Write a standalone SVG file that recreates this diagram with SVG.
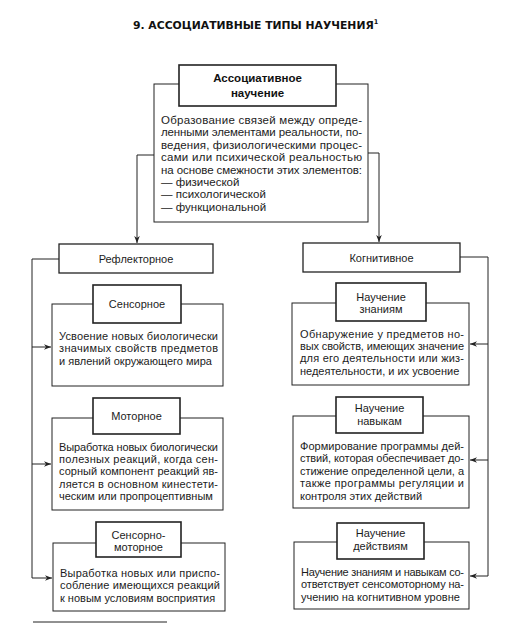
<svg xmlns="http://www.w3.org/2000/svg" width="519" height="625" viewBox="0 0 519 625">
<defs>
<marker id="arr" viewBox="0 0 10 10" refX="10" refY="5" markerWidth="7" markerHeight="7" orient="auto" markerUnits="userSpaceOnUse">
<path d="M0,1 L10,5 L0,9 L3,5 Z" fill="#222"/>
</marker>
<style>
.t{font-family:"Liberation Sans",Arial,sans-serif;font-size:11px;fill:#1c1c1c}
.m{font-family:"Liberation Sans",Arial,sans-serif;font-size:11.5px;fill:#1c1c1c}
.h{font-family:"Liberation Sans",Arial,sans-serif;font-size:11px;fill:#1c1c1c;text-anchor:middle}
.hb{font-family:"Liberation Sans",Arial,sans-serif;font-size:11.5px;font-weight:bold;fill:#111;text-anchor:middle}
.box{fill:#fff;stroke:#222;stroke-width:1}
.hdr{fill:#fff;stroke:#222;stroke-width:1.6}
.mid{fill:#fff;stroke:#222;stroke-width:1.3}
.ln{fill:none;stroke:#222;stroke-width:1}
</style>
</defs>
<rect width="519" height="625" fill="#fff"/>

<g id="title">
<text x="133" y="29" font-family="'DejaVu Sans',sans-serif" font-size="10.8" font-weight="bold" fill="#111">9. АССОЦИАТИВНЫЕ ТИПЫ НАУЧЕНИЯ<tspan font-size="6.5" dy="-5">1</tspan></text>
</g>

<g id="connectors">
<polyline class="ln" points="154,155 137,155 137,243" marker-end="url(#arr)"/>
<polyline class="ln" points="368,153 379,153 379,242" marker-end="url(#arr)"/>
<polyline class="ln" points="59,259 32,259 32,578 52,578" marker-end="url(#arr)"/>
<polyline class="ln" points="32,347 51,347" marker-end="url(#arr)"/>
<polyline class="ln" points="32,464 51,464" marker-end="url(#arr)"/>
<polyline class="ln" points="460,257 488,257 488,576 470,576" marker-end="url(#arr)"/>
<polyline class="ln" points="488,344 470,344" marker-end="url(#arr)"/>
<polyline class="ln" points="488,460 470,460" marker-end="url(#arr)"/>
</g>

<g id="assoc">
<rect class="box" x="154" y="84" width="214" height="138"/>
<rect class="hdr" x="179" y="65" width="157" height="41"/>
<text class="hb" x="257.5" y="82">Ассоциативное</text>
<text class="hb" x="257.5" y="97">научение</text>
<text class="m" x="161" y="124" textLength="201" lengthAdjust="spacing">Образование связей между опреде-</text>
<text class="m" x="161" y="136.4" textLength="201" lengthAdjust="spacing">ленными элементами реальности, по-</text>
<text class="m" x="161" y="148.8" textLength="201" lengthAdjust="spacing">ведения, физиологическими процес-</text>
<text class="m" x="161" y="161.2" textLength="201" lengthAdjust="spacing">сами или психической реальностью</text>
<text class="m" x="161" y="173.6" textLength="201" lengthAdjust="spacing">на основе смежности этих элементов:</text>
<text class="m" x="161" y="186">— физической</text>
<text class="m" x="161" y="198.4">— психологической</text>
<text class="m" x="161" y="210.8">— функциональной</text>
</g>

<g id="reflex">
<rect class="mid" x="59" y="244" width="154" height="29"/>
<text class="h" x="136" y="262.5">Рефлекторное</text>
</g>

<g id="cogn">
<rect class="mid" x="303" y="243" width="157" height="29"/>
<text class="h" x="381.5" y="261.5">Когнитивное</text>
</g>

<g id="sensory">
<rect class="box" x="52" y="304" width="171" height="82"/>
<rect class="hdr" x="93" y="285" width="88" height="38"/>
<text class="h" x="137" y="308">Сенсорное</text>
<text class="t" x="59" y="340" textLength="159" lengthAdjust="spacing">Усвоение новых биологически</text>
<text class="t" x="59" y="352.4" textLength="159" lengthAdjust="spacing">значимых свойств предметов</text>
<text class="t" x="59" y="364.8">и явлений окружающего мира</text>
</g>

<g id="motor">
<rect class="box" x="52" y="418" width="171" height="92"/>
<rect class="hdr" x="93" y="398" width="87" height="36"/>
<text class="h" x="136.5" y="420">Моторное</text>
<text class="t" x="59" y="451" textLength="159" lengthAdjust="spacing">Выработка новых биологически</text>
<text class="t" x="59" y="463.2" textLength="159" lengthAdjust="spacing">полезных реакций, когда сен-</text>
<text class="t" x="59" y="475.4" textLength="159" lengthAdjust="spacing">сорный компонент реакций яв-</text>
<text class="t" x="59" y="487.6" textLength="159" lengthAdjust="spacing">ляется в основном кинестети-</text>
<text class="t" x="59" y="499.8">ческим или пропроцептивным</text>
</g>

<g id="sensomotor">
<rect class="box" x="53" y="543" width="172" height="68"/>
<rect class="hdr" x="96" y="522" width="85" height="35"/>
<text class="h" x="138.5" y="538.5">Сенсорно-</text>
<text class="h" x="138.5" y="551">моторное</text>
<text class="t" x="60" y="577" textLength="160" lengthAdjust="spacing">Выработка новых или приспо-</text>
<text class="t" x="60" y="589.4" textLength="160" lengthAdjust="spacing">собление имеющихся реакций</text>
<text class="t" x="60" y="601.8">к новым условиям восприятия</text>
</g>

<g id="knowledge">
<rect class="box" x="292" y="303" width="177" height="82"/>
<rect class="hdr" x="336" y="283" width="90" height="38"/>
<text class="h" x="381" y="300.5">Научение</text>
<text class="h" x="381" y="313">знаниям</text>
<text class="t" x="300" y="337.5" textLength="164" lengthAdjust="spacing">Обнаружение у предметов но-</text>
<text class="t" x="300" y="349.9" textLength="164" lengthAdjust="spacing">вых свойств, имеющих значение</text>
<text class="t" x="300" y="362.3" textLength="164" lengthAdjust="spacing">для его деятельности или жиз-</text>
<text class="t" x="300" y="374.7">недеятельности, и их усвоение</text>
</g>

<g id="skills">
<rect class="box" x="293" y="416" width="176" height="92"/>
<rect class="hdr" x="336" y="397" width="87" height="36"/>
<text class="h" x="379.5" y="412">Научение</text>
<text class="h" x="379.5" y="424.5">навыкам</text>
<text class="t" x="300" y="450" textLength="164" lengthAdjust="spacing">Формирование программы дей-</text>
<text class="t" x="300" y="462.4" textLength="164" lengthAdjust="spacing">ствий, которая обеспечивает до-</text>
<text class="t" x="300" y="474.8" textLength="164" lengthAdjust="spacing">стижение определенной цели, а</text>
<text class="t" x="300" y="487.2" textLength="164" lengthAdjust="spacing">также программы регуляции и</text>
<text class="t" x="300" y="499.6">контроля этих действий</text>
</g>

<g id="actions">
<rect class="box" x="294" y="542" width="175" height="67"/>
<rect class="hdr" x="337" y="523" width="87" height="36"/>
<text class="h" x="380.5" y="537">Научение</text>
<text class="h" x="380.5" y="550">действиям</text>
<text class="t" x="301" y="576" textLength="163" lengthAdjust="spacing">Научение знаниям и навыкам со-</text>
<text class="t" x="301" y="588.4" textLength="163" lengthAdjust="spacing">ответствует сенсомоторному на-</text>
<text class="t" x="301" y="600.8">учению на когнитивном уровне</text>
</g>

<line class="ln" x1="33" y1="622" x2="167" y2="622"/>
</svg>
